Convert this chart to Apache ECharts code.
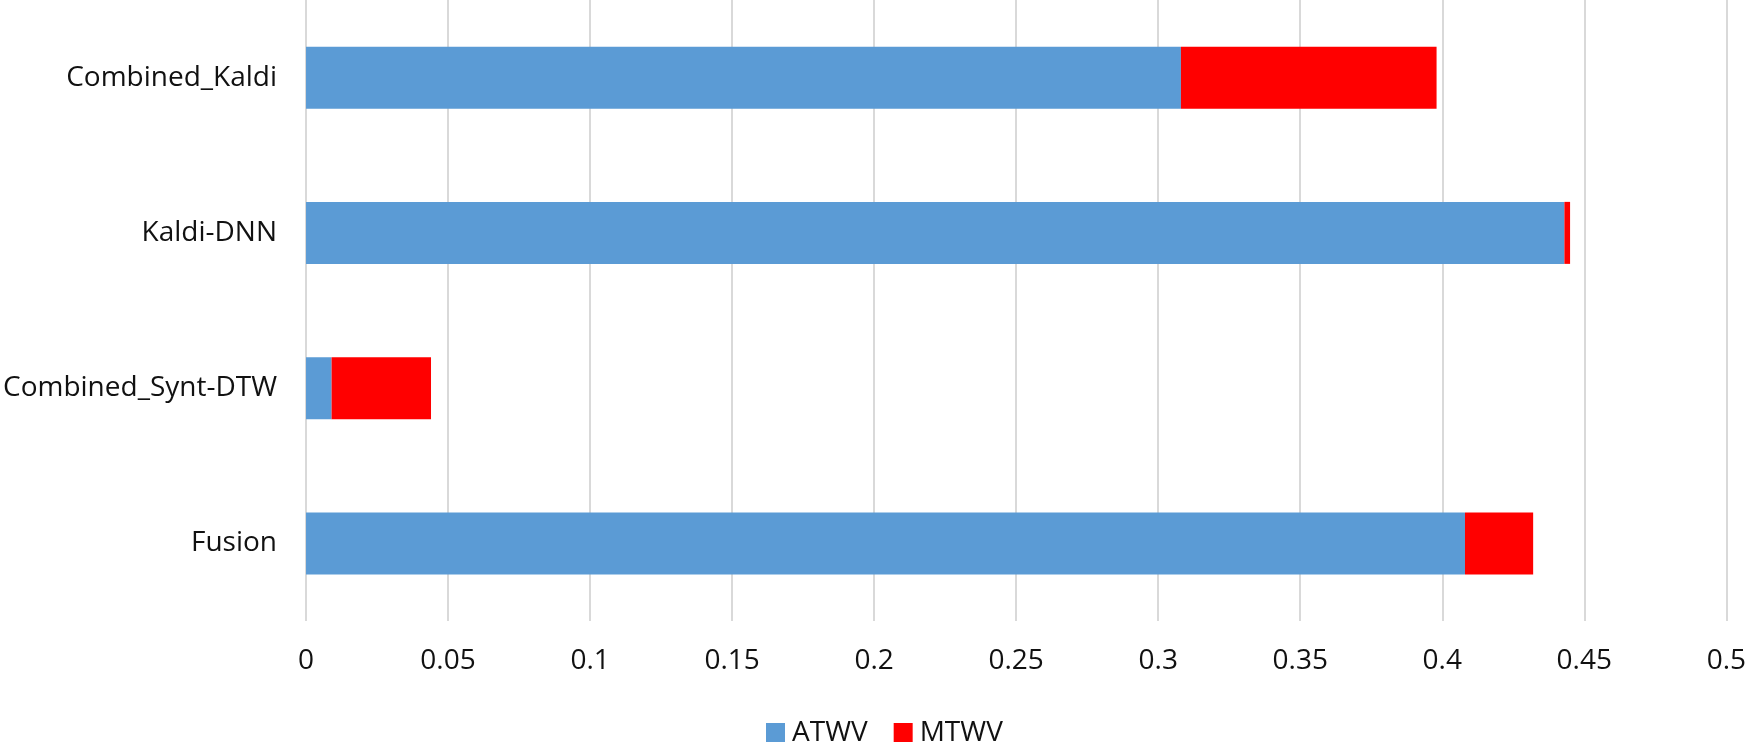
<!DOCTYPE html>
<html>
<head>
<meta charset="utf-8">
<script src="https://cdn.jsdelivr.net/npm/echarts@6/dist/echarts.min.js"></script>
<style>
html,body{margin:0;padding:0;background:#fff;}
#chart{width:1749px;height:742px;}
</style>
</head>
<body>
<div id="chart"></div>
<script>
// Categories, top to bottom
const categories = ['Combined_Kaldi', 'Kaldi-DNN', 'Combined_Synt-DTW', 'Fusion'];
// Stacked segments
const atwv = [0.308, 0.443, 0.009, 0.408];
const mtwvExtra = [0.090, 0.002, 0.035, 0.024];
const seriesNames = ['ATWV', 'MTWV'];
const xTicks = { min: 0, max: 0.5, interval: 0.05 };

const FONT = '"Open Sans", "Noto Sans", sans-serif';
const chart = echarts.init(document.getElementById('chart'), null, { renderer: 'canvas' });
chart.setOption({
  backgroundColor: '#ffffff',
  animation: false,
  grid: { left: 306, right: 20, top: 0, bottom: 121, containLabel: false },
  legend: {
    data: seriesNames,
    left: 766,
    top: 719,
    padding: 0,
    itemWidth: 19,
    itemHeight: 20,
    itemGap: 26,
    icon: 'rect',
    textStyle: { fontFamily: FONT, fontSize: 28, color: '#111', padding: [0, 0, 0, 2] }
  },
  xAxis: {
    type: 'value',
    min: xTicks.min,
    max: xTicks.max,
    interval: xTicks.interval,
    axisLine: { show: false },
    axisTick: { show: false },
    splitLine: { show: true, lineStyle: { color: '#d9d9d9', width: 2 } },
    axisLabel: {
      fontFamily: FONT, fontSize: 28, color: '#111', margin: 26,
      formatter: v => String(parseFloat(v.toFixed(2)))
    }
  },
  yAxis: {
    type: 'category',
    data: categories,
    inverse: true,
    axisLine: { show: false },
    axisTick: { show: false },
    splitLine: { show: false },
    axisLabel: { fontFamily: FONT, fontSize: 28, color: '#111', margin: 29 }
  },
  series: [
    { name: seriesNames[0], type: 'bar', stack: 'total', data: atwv, barWidth: 62,
      itemStyle: { color: '#5B9BD5' } },
    { name: seriesNames[1], type: 'bar', stack: 'total', data: mtwvExtra, barWidth: 62,
      itemStyle: { color: '#FF0000' } }
  ]
});
</script>
</body>
</html>
